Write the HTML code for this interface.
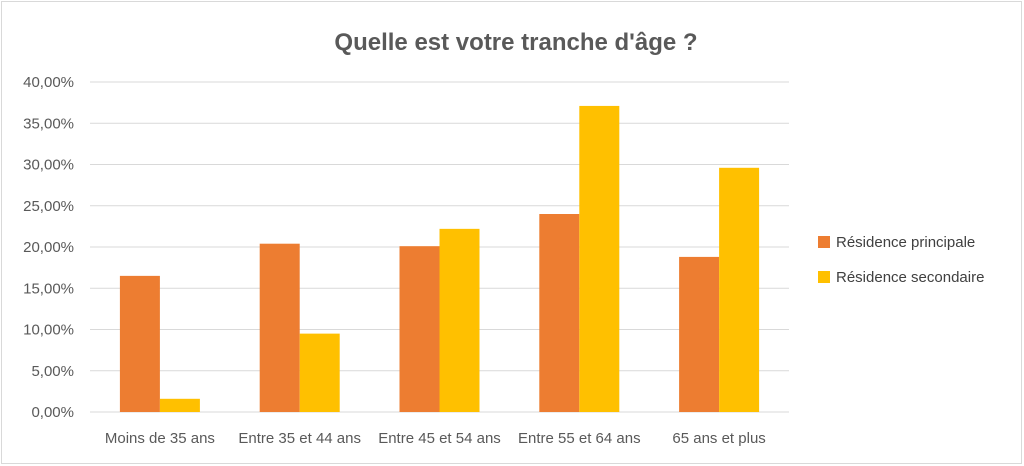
<!DOCTYPE html>
<html><head><meta charset="utf-8"><style>
body{margin:0;background:#fff;}
svg{display:block;font-family:"Liberation Sans",sans-serif;}
</style></head><body>
<svg id="c" width="1024" height="466">
<rect x="1.5" y="1.5" width="1020" height="462" fill="#fff" stroke="#d9d9d9"/>
<text x="516" y="50" text-anchor="middle" font-size="24" font-weight="bold" fill="#595959">Quelle est votre tranche d'âge ?</text>
<g id="grid"></g><g id="bars"></g><g id="labels"></g>
<g>
<rect x="818" y="236" width="12" height="12" fill="#ed7d31"/>
<text x="836" y="247" font-size="15" fill="#404040">Résidence principale</text>
<rect x="818" y="271" width="12" height="12" fill="#ffc000"/>
<text x="836" y="282" font-size="15" fill="#404040">Résidence secondaire</text>
</g>
</svg>
<script>
const categories=["Moins de 35 ans","Entre 35 et 44 ans","Entre 45 et 54 ans","Entre 55 et 64 ans","65 ans et plus"];
const principale=[16.5,20.4,20.1,24.0,18.8];
const secondaire=[1.6,9.5,22.2,37.1,29.6];
const ticks=[0,5,10,15,20,25,30,35,40];
const tickLabels=["0,00%","5,00%","10,00%","15,00%","20,00%","25,00%","30,00%","35,00%","40,00%"];
const NS="http://www.w3.org/2000/svg";
const x0=90,x1=789,y0=412,yTop=82,maxV=40;
const y=v=>y0-(v/maxV)*(y0-yTop);
const band=(x1-x0)/categories.length;
const cx=i=>x0+band*(i+0.5);
function mk(tag,attrs,parent,txt){const e=document.createElementNS(NS,tag);for(const k in attrs)e.setAttribute(k,attrs[k]);if(txt!==undefined)e.textContent=txt;document.getElementById(parent).appendChild(e);return e;}
ticks.forEach((t,i)=>{
 const l=mk('line',{x1:x0,x2:x1,y1:y(t),y2:y(t),stroke:'#d9d9d9','stroke-width':1},'grid');
 
 
 const tx=mk('text',{x:74,y:y(t)+5,'text-anchor':'end','font-size':15,fill:'#595959'},'labels',tickLabels[i]);
 
 
});
const bw=40;
categories.forEach((c,i)=>{
 const a=mk('rect',{x:cx(i)-bw,y:y(principale[i]),width:bw,height:y0-y(principale[i]),fill:'#ed7d31'},'bars');
 
 
 const b=mk('rect',{x:cx(i),y:y(secondaire[i]),width:bw,height:y0-y(secondaire[i]),fill:'#ffc000'},'bars');
 
 
 const t=mk('text',{x:cx(i),y:443,'text-anchor':'middle','font-size':15,fill:'#595959'},'labels',c);
 
 
});
</script>
</body></html>
